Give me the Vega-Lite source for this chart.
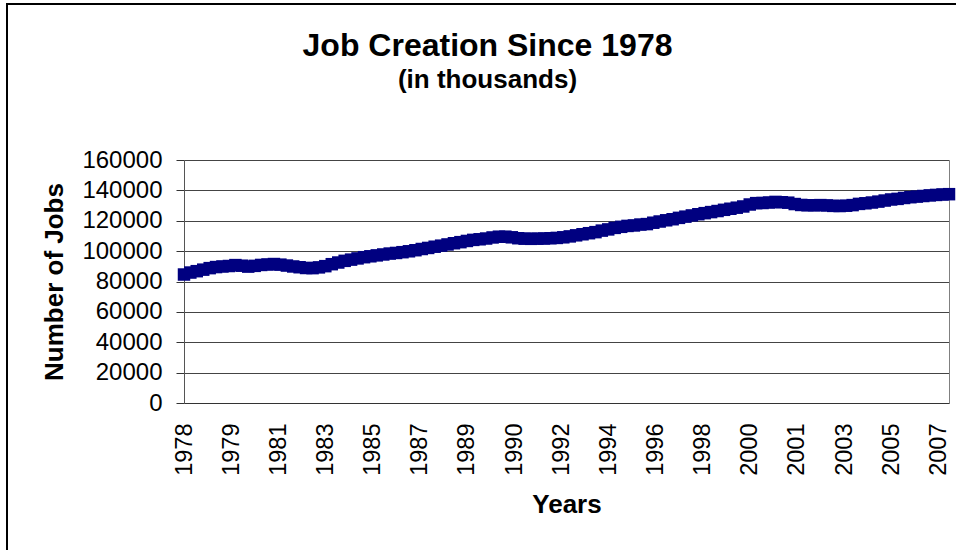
{
  "$schema": "https://vega.github.io/schema/vega-lite/v6.json",
  "width": 951,
  "height": 548,
  "autosize": {"type": "none"},
  "padding": {"left": 7, "top": 4, "right": -2, "bottom": -2},
  "background": "white",
  "title": {
    "text": "Job Creation Since 1978",
    "subtitle": "(in thousands)",
    "font": "Liberation Sans",
    "fontSize": 32,
    "fontWeight": "bold",
    "color": "black",
    "subtitleFont": "Liberation Sans",
    "subtitleFontSize": 26,
    "subtitleFontWeight": "bold",
    "subtitleColor": "black",
    "subtitlePadding": 4,
    "anchor": "middle",
    "frame": "group",
    "offset": 0,
    "dx": 5,
    "dy": 90
  },
  "data": {
    "values": [
      {"d": "1978-01-15", "v": 84600}, {"d": "1978-04-15", "v": 85900}, {"d": "1978-07-15", "v": 86800}, {"d": "1978-10-15", "v": 87800},
      {"d": "1979-01-15", "v": 88800}, {"d": "1979-04-15", "v": 89500}, {"d": "1979-07-15", "v": 89900}, {"d": "1979-10-15", "v": 90200},
      {"d": "1980-01-15", "v": 90800}, {"d": "1980-04-15", "v": 90400}, {"d": "1980-07-15", "v": 89800}, {"d": "1980-10-15", "v": 90300},
      {"d": "1981-01-15", "v": 90900}, {"d": "1981-04-15", "v": 91200}, {"d": "1981-07-15", "v": 91500}, {"d": "1981-10-15", "v": 91100},
      {"d": "1982-01-15", "v": 90500}, {"d": "1982-04-15", "v": 89900}, {"d": "1982-07-15", "v": 89400}, {"d": "1982-10-15", "v": 88900},
      {"d": "1983-01-15", "v": 88800}, {"d": "1983-04-15", "v": 89300}, {"d": "1983-07-15", "v": 90100}, {"d": "1983-10-15", "v": 91400},
      {"d": "1984-01-15", "v": 92500}, {"d": "1984-04-15", "v": 93600}, {"d": "1984-07-15", "v": 94400}, {"d": "1984-10-15", "v": 95200},
      {"d": "1985-01-15", "v": 96000}, {"d": "1985-04-15", "v": 96600}, {"d": "1985-07-15", "v": 97200}, {"d": "1985-10-15", "v": 97800},
      {"d": "1986-01-15", "v": 98400}, {"d": "1986-04-15", "v": 98800}, {"d": "1986-07-15", "v": 99300}, {"d": "1986-10-15", "v": 99900},
      {"d": "1987-01-15", "v": 100600}, {"d": "1987-04-15", "v": 101400}, {"d": "1987-07-15", "v": 102100}, {"d": "1987-10-15", "v": 102900},
      {"d": "1988-01-15", "v": 103600}, {"d": "1988-04-15", "v": 104400}, {"d": "1988-07-15", "v": 105200}, {"d": "1988-10-15", "v": 105900},
      {"d": "1989-01-15", "v": 106700}, {"d": "1989-04-15", "v": 107400}, {"d": "1989-07-15", "v": 107800}, {"d": "1989-10-15", "v": 108300},
      {"d": "1990-01-15", "v": 109000}, {"d": "1990-04-15", "v": 109500}, {"d": "1990-07-15", "v": 109500}, {"d": "1990-10-15", "v": 109100},
      {"d": "1991-01-15", "v": 108500}, {"d": "1991-04-15", "v": 108200}, {"d": "1991-07-15", "v": 108100}, {"d": "1991-10-15", "v": 108200},
      {"d": "1992-01-15", "v": 108300}, {"d": "1992-04-15", "v": 108500}, {"d": "1992-07-15", "v": 108700}, {"d": "1992-10-15", "v": 109100},
      {"d": "1993-01-15", "v": 109700}, {"d": "1993-04-15", "v": 110400}, {"d": "1993-07-15", "v": 111100}, {"d": "1993-10-15", "v": 111800},
      {"d": "1994-01-15", "v": 112500}, {"d": "1994-04-15", "v": 113500}, {"d": "1994-07-15", "v": 114300}, {"d": "1994-10-15", "v": 115300},
      {"d": "1995-01-15", "v": 116000}, {"d": "1995-04-15", "v": 116600}, {"d": "1995-07-15", "v": 116900}, {"d": "1995-10-15", "v": 117500},
      {"d": "1996-01-15", "v": 117800}, {"d": "1996-04-15", "v": 118700}, {"d": "1996-07-15", "v": 119500}, {"d": "1996-10-15", "v": 120300},
      {"d": "1997-01-15", "v": 121000}, {"d": "1997-04-15", "v": 121900}, {"d": "1997-07-15", "v": 122700}, {"d": "1997-10-15", "v": 123500},
      {"d": "1998-01-15", "v": 124300}, {"d": "1998-04-15", "v": 125000}, {"d": "1998-07-15", "v": 125700}, {"d": "1998-10-15", "v": 126400},
      {"d": "1999-01-15", "v": 127200}, {"d": "1999-04-15", "v": 127900}, {"d": "1999-07-15", "v": 128600}, {"d": "1999-10-15", "v": 129400},
      {"d": "2000-01-15", "v": 130700}, {"d": "2000-04-15", "v": 131600}, {"d": "2000-07-15", "v": 131700}, {"d": "2000-10-15", "v": 132000},
      {"d": "2001-01-15", "v": 132400}, {"d": "2001-04-15", "v": 132200}, {"d": "2001-07-15", "v": 131900}, {"d": "2001-10-15", "v": 131000},
      {"d": "2002-01-15", "v": 130400}, {"d": "2002-04-15", "v": 130200}, {"d": "2002-07-15", "v": 130200}, {"d": "2002-10-15", "v": 130300},
      {"d": "2003-01-15", "v": 130100}, {"d": "2003-04-15", "v": 129800}, {"d": "2003-07-15", "v": 129700}, {"d": "2003-10-15", "v": 129900},
      {"d": "2004-01-15", "v": 130300}, {"d": "2004-04-15", "v": 131100}, {"d": "2004-07-15", "v": 131500}, {"d": "2004-10-15", "v": 132000},
      {"d": "2005-01-15", "v": 132600}, {"d": "2005-04-15", "v": 133300}, {"d": "2005-07-15", "v": 134000}, {"d": "2005-10-15", "v": 134400},
      {"d": "2006-01-15", "v": 135000}, {"d": "2006-04-15", "v": 135500}, {"d": "2006-07-15", "v": 135900}, {"d": "2006-10-15", "v": 136300},
      {"d": "2007-01-15", "v": 136700}, {"d": "2007-04-15", "v": 137000}, {"d": "2007-07-15", "v": 137300}, {"d": "2007-10-15", "v": 137500}
    ]
  },
  "layer": [
    {
      "mark": {"type": "line", "color": "#000080", "strokeWidth": 6},
      "encoding": {
        "x": {
          "field": "d",
          "type": "temporal",
          "scale": {
            "domain": [{"year": 1978, "month": 1, "date": 15}, {"year": 2007, "month": 10, "date": 15}],
            "range": [177, 942]
          },
          "axis": {
            "orient": "bottom",
            "offset": -149,
            "values": [
              {"year": 1978, "month": 1, "date": 15}, {"year": 1979, "month": 11, "date": 15},
              {"year": 1981, "month": 9, "date": 15}, {"year": 1983, "month": 7, "date": 15},
              {"year": 1985, "month": 5, "date": 15}, {"year": 1987, "month": 3, "date": 15},
              {"year": 1989, "month": 1, "date": 15}, {"year": 1990, "month": 11, "date": 15},
              {"year": 1992, "month": 9, "date": 15}, {"year": 1994, "month": 7, "date": 15},
              {"year": 1996, "month": 5, "date": 15}, {"year": 1998, "month": 3, "date": 15},
              {"year": 2000, "month": 1, "date": 15}, {"year": 2001, "month": 11, "date": 15},
              {"year": 2003, "month": 9, "date": 15}, {"year": 2005, "month": 7, "date": 15},
              {"year": 2007, "month": 5, "date": 15}
            ],
            "format": "%Y",
            "labelAngle": -90,
            "labelFont": "Liberation Sans",
            "labelFontSize": 23.5,
            "labelColor": "black",
            "labelPadding": 20,
            "labelOverlap": false,
            "labelFlush": false,
            "ticks": false,
            "grid": false,
            "domainColor": "#333333",
            "domainWidth": 1,
            "title": "Years",
            "titleFont": "Liberation Sans",
            "titleFontSize": 26,
            "titleFontWeight": "bold",
            "titleColor": "black",
            "titleBaseline": "alphabetic",
            "titleY": 109
          }
        },
        "y": {
          "field": "v",
          "type": "quantitative",
          "scale": {"domain": [0, 160000], "range": [399, 156], "nice": false, "zero": true},
          "axis": {
            "orient": "left",
            "offset": -177,
            "values": [0, 20000, 40000, 60000, 80000, 100000, 120000, 140000, 160000],
            "format": "d",
            "labelFont": "Liberation Sans",
            "labelFontSize": 24,
            "labelColor": "black",
            "labelPadding": 14,
            "labelOverlap": false,
            "labelFlush": false,
            "tickSize": 8,
            "tickColor": "#333333",
            "domainColor": "#555555",
            "grid": true,
            "gridColor": "#444444",
            "gridWidth": 1,
            "title": "Number of Jobs",
            "titleFont": "Liberation Sans",
            "titleFontSize": 26,
            "titleFontWeight": "bold",
            "titleColor": "black",
            "titleAngle": -90,
            "titleAlign": "center",
            "titleBaseline": "alphabetic",
            "titleX": -122,
            "titleY": 277.5
          }
        }
      }
    },
    {
      "mark": {"type": "point", "shape": "square", "filled": true, "size": 156, "color": "#000080", "opacity": 1},
      "encoding": {
        "x": {"field": "d", "type": "temporal"},
        "y": {"field": "v", "type": "quantitative", "axis": null}
      }
    },
    {
      "mark": {"type": "point", "opacity": 0},
      "encoding": {
        "x": {"field": "d", "type": "temporal"},
        "y": {
          "field": "v",
          "type": "quantitative",
          "axis": {"orient": "right", "offset": -9, "labels": false, "ticks": false, "grid": false, "title": null, "domainColor": "#808080", "domainWidth": 1}
        }
      }
    }
  ],
  "resolve": {"axis": {"y": "independent"}},
  "config": {
    "font": "Liberation Sans",
    "view": {"stroke": "black", "strokeWidth": 2}
  }
}
